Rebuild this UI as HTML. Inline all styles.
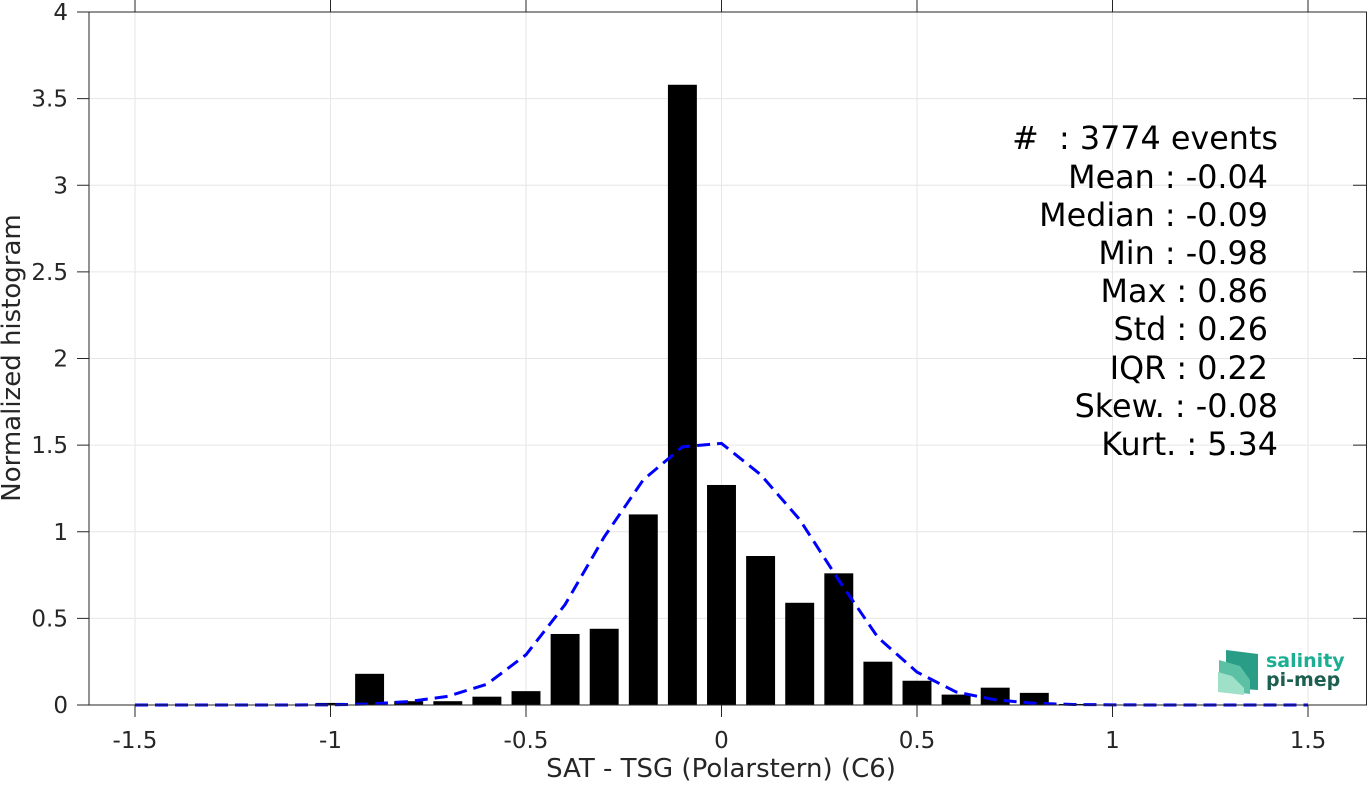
<!DOCTYPE html>
<html><head><meta charset="utf-8"><style>
body{margin:0;background:#fff;font-family:"DejaVu Sans","Liberation Sans",sans-serif}
svg{display:block}
</style></head><body>
<svg id="chart" width="1367" height="785" xmlns="http://www.w3.org/2000/svg">
<g id="grid"></g>
<g id="bars"></g>
<path id="fit" fill="none" stroke="#0000ff" stroke-width="3" stroke-dasharray="13,7"/>
<g id="axes"></g>
<text x="721" y="777" font-size="26" fill="#262626" text-anchor="middle">SAT - TSG (Polarstern) (C6)</text>
<text transform="translate(20,358) rotate(-90)" font-size="26" fill="#262626" text-anchor="middle">Normalized histogram</text>
<g font-size="31.8" fill="#000" text-anchor="end">
<text x="1278" y="149" xml:space="preserve">#  : 3774 events</text>
<text x="1268" y="188">Mean : -0.04</text>
<text x="1268" y="226">Median : -0.09</text>
<text x="1268" y="264">Min : -0.98</text>
<text x="1268" y="302">Max : 0.86</text>
<text x="1268" y="340">Std : 0.26</text>
<text x="1268" y="379">IQR : 0.22</text>
<text x="1278" y="417">Skew. : -0.08</text>
<text x="1278" y="455">Kurt. : 5.34</text>
</g>
<g>
<polygon points="1226,650 1258,654 1258,690 1226,688" fill="#2a9d86"/>
<polygon points="1219,660 1240,666 1250,680 1250,694 1219,690" fill="#5cc0a5"/>
<polygon points="1218,672 1232,676 1244,688 1244,695 1218,692" fill="#9fe0c8"/>
<text x="1266" y="667" font-size="19" font-weight="bold" fill="#1aae92">salinity</text>
<text x="1266" y="686" font-size="19" font-weight="bold" fill="#1c5e50">pi-mep</text>
</g>
</svg>
<script>
const binCenters=[-1.0,-0.9,-0.8,-0.7,-0.6,-0.5,-0.4,-0.3,-0.2,-0.1,0.0,0.1,0.2,0.3,0.4,0.5,0.6,0.7,0.8,0.9];
const binValues=[0.012,0.18,0.022,0.022,0.048,0.08,0.41,0.44,1.10,3.58,1.27,0.86,0.59,0.76,0.25,0.14,0.06,0.10,0.07,0.006];
const fitX=[-1.5,-1.4,-1.3,-1.2,-1.1,-1.0,-0.9,-0.8,-0.7,-0.6,-0.5,-0.4,-0.3,-0.2,-0.1,0.0,0.1,0.2,0.3,0.4,0.5,0.6,0.7,0.8,0.9,1.0,1.1,1.2,1.3,1.4,1.5];
const fitY=[0,0,0,0,0,0.001,0.006,0.02,0.05,0.12,0.29,0.58,0.97,1.30,1.49,1.51,1.33,1.07,0.72,0.39,0.19,0.075,0.03,0.01,0.003,0.001,0,0,0,0,0];
const xTicks=[-1.5,-1,-0.5,0,0.5,1,1.5];
const xTickLabels=["-1.5","-1","-0.5","0","0.5","1","1.5"];
const yTicks=[0,0.5,1,1.5,2,2.5,3,3.5,4];
const yTickLabels=["0","0.5","1","1.5","2","2.5","3","3.5","4"];
const L=89,R=1367,T=12,B=705;
const sx=v=>721.5+v*391;
const sy=v=>B-v*(B-T)/4;
const NS="http://www.w3.org/2000/svg";
function mk(tag,attrs,parent,txt){const e=document.createElementNS(NS,tag);for(const k in attrs)e.setAttribute(k,attrs[k]);if(txt!=null)e.textContent=txt;parent.appendChild(e);return e;}
const grid=document.getElementById('grid'),bars=document.getElementById('bars'),axes=document.getElementById('axes');
xTicks.forEach((v,i)=>{
 const g=mk('line',{x1:sx(v),x2:sx(v),y1:T,y2:B,stroke:'#e6e6e6','stroke-width':1},grid);
 
 
 const t1=mk('line',{x1:sx(v),x2:sx(v),y1:B,y2:B+12,stroke:'#262626','stroke-width':1},axes);
 
 
 const t2=mk('line',{x1:sx(v),x2:sx(v),y1:0,y2:T,stroke:'#262626','stroke-width':1},axes);
 
 
 const lb=mk('text',{x:sx(v),y:748,'font-size':23,fill:'#262626','text-anchor':'middle'},axes,xTickLabels[i]);
 
 
});
yTicks.forEach((v,i)=>{
 const g=mk('line',{x1:L,x2:R,y1:sy(v),y2:sy(v),stroke:'#e6e6e6','stroke-width':1},grid);
 
 
 const t=mk('line',{x1:L-12,x2:L,y1:sy(v),y2:sy(v),stroke:'#262626','stroke-width':1},axes);
 
 
 const t2=mk('line',{x1:1353,x2:R,y1:sy(v),y2:sy(v),stroke:'#262626','stroke-width':1},axes);
 
 
 const lb=mk('text',{x:68,y:sy(v)+8,'font-size':23,fill:'#262626','text-anchor':'end'},axes,yTickLabels[i]);
 
 
});
const bw=0.074*391;
binCenters.forEach((c,i)=>{
 const r=mk('rect',{x:sx(c)-bw/2,y:sy(binValues[i]),width:bw,height:B-sy(binValues[i]),fill:'#000'},bars);
 
 
});
document.getElementById('fit').setAttribute('d',fitX.map((x,i)=>(i?'L':'M')+sx(x)+','+sy(fitY[i])).join(' '));
const f=mk('path',{d:`M${L},${B} L${L},${T} L${R},${T} M${L},${B} L${R},${B}`,fill:'none',stroke:'#262626','stroke-width':1},axes);


const rl=mk('line',{x1:1366.5,x2:1366.5,y1:T,y2:B,stroke:'#262626','stroke-width':1},axes);


</script>
</body></html>
